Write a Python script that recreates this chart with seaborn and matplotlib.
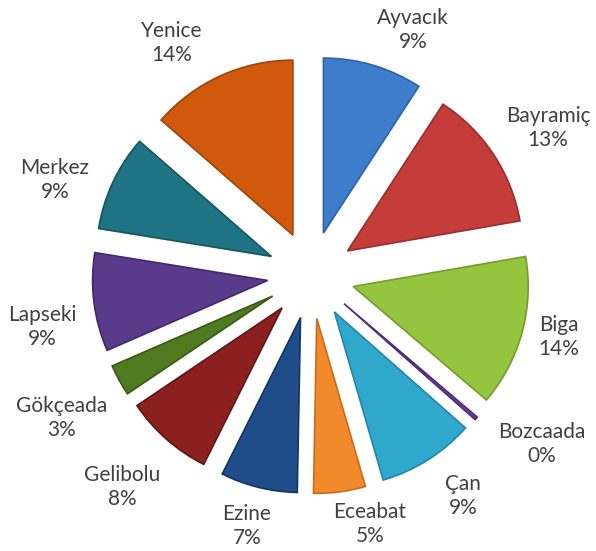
import matplotlib
matplotlib.use("Agg")
import matplotlib.pyplot as plt
import seaborn as sns

# ilçe dağılımı (yüzde, saat yönünde tepeden başlayarak)
districts = ["Ayvacık", "Bayramiç", "Biga", "Bozcaada", "Çan", "Eceabat",
             "Ezine", "Gelibolu", "Gökçeada", "Lapseki", "Merkez", "Yenice"]
shares = [9.2, 13.1, 14.0, 0.3, 9.0, 4.8, 7.1, 8.2, 2.9, 9.1, 8.9, 13.6]
colors = ["#3e7ccc", "#c53d3a", "#95c43f", "#6a3f96", "#30a8cc", "#f28a2b",
          "#1f4d8a", "#8a2020", "#4f7a1f", "#5a3a8a", "#1f7484", "#d0590b"]
edges = ["#2f62a5", "#9a2d2b", "#749c2c", "#512d76", "#2386a6", "#c96b1c",
         "#15365f", "#621515", "#385816", "#40296a", "#155560", "#a0430a"]

# etiket merkezleri (piksel, sol üstten)
label_px = [(413, 30), (548, 128), (559, 337), (542, 444), (463, 496),
            (370, 524), (247, 526), (122, 487), (62, 418), (42, 327),
            (55, 180), (172, 43)]

W, H = 596, 551
CX, CY, R = 311, 275, 175

sns.set_theme(style="white")
plt.rcParams["font.family"] = ["Lato", "DejaVu Sans"]

total = sum(shares)
labels = [f"{d}\n{v / total * 100:.0f}%" for d, v in zip(districts, shares)]

fig = plt.figure(figsize=(W / 100, H / 100), dpi=100)
ax = fig.add_axes([0, 0, 1, 1])
wedges, texts = ax.pie(shares, labels=labels, colors=colors,
                       explode=[0.25] * len(shares), startangle=90,
                       counterclock=False,
                       wedgeprops={"linewidth": 1.2},
                       textprops={"fontsize": 15, "color": "#404040",
                                  "ha": "center", "va": "center",
                                  "linespacing": 1.3})
for w, ec in zip(wedges, edges):
    w.set_edgecolor(ec)
for t, (px, py) in zip(texts, label_px):
    t.set_position(((px - CX) / R, (CY - py) / R))

ax.set_xlim(-CX / R, (W - CX) / R)
ax.set_ylim(-(H - CY) / R, CY / R)
ax.set_aspect("equal")
ax.axis("off")

fig.savefig("out.png", dpi=100)
